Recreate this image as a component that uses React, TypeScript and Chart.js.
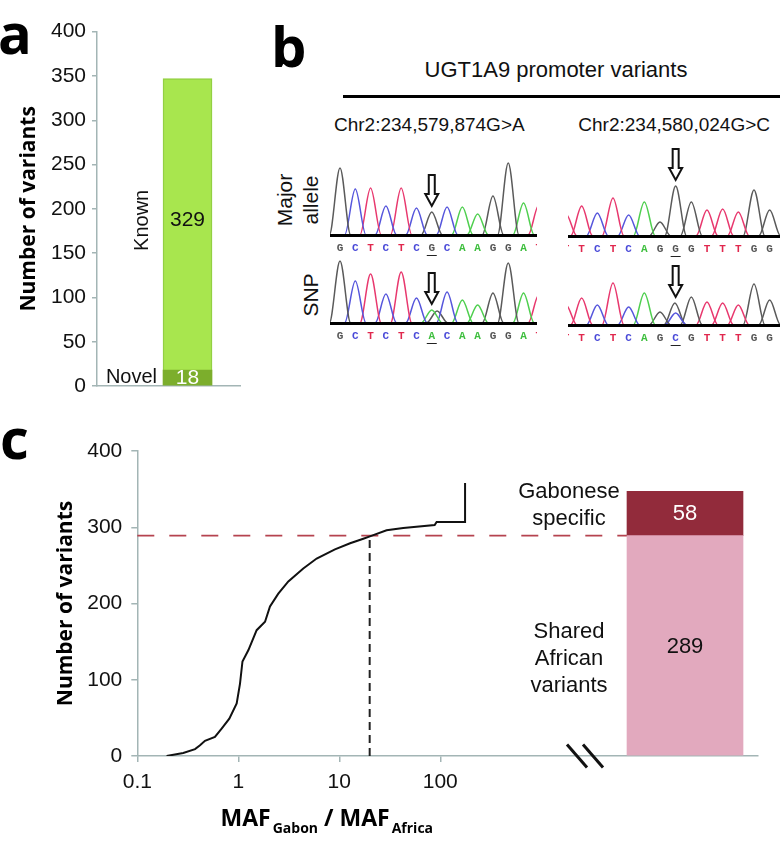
import React, { useEffect, useRef } from 'react';
import { Chart, registerables } from 'chart.js';

Chart.register(...registerables);

const SANS = '"Liberation Sans", Arial, Helvetica, sans-serif';
const BOLD = '"Open Sans", "Noto Sans", sans-serif';
const AXIS = '#a3b5b5';
Chart.defaults.font.family = SANS;

// ---------- Panel a : known vs novel variants ----------
const variantTypes = ['Novel', 'Known'];
const variantCounts = [18, 329];
const variantColors = ['#7cae2c', '#a8e64e'];

// ---------- Panel b : chromatograms (peak heights per called base) ----------
const baseColors: Record<string, string> = { A: '#4fcf4f', C: '#5656dc', G: '#5a5a5a', T: '#e8386e' };
const letterColors: Record<string, string> = { A: '#3fbf3f', C: '#4a4ad8', G: '#555555', T: '#e0284e' };
const snp1Label = 'Chr2:234,579,874G>A';
const snp2Label = 'Chr2:234,580,024G>C';
const snp1MajorBases = 'GCTCTCGCAAGGAT';
const snp1MajorPeaks = [67, 46, 47, 29, 47, 27, 23, 28, 28, 21, 39, 72, 32, 30];
const snp1AltBases = 'GCTCTCACAAGGAT';
const snp1AltPeaks = [62, 42, 49, 29, 51, 25, 13, 31, 23, 18, 30, 60, 30, 28];
const snp1AltExtra = [{ base: 'G', pos: 6.35, height: 12 }];
const snp1Index = 6;
const snp2MajorBases = 'TTCTCAGGGTTTGG';
const snp2MajorPeaks = [22, 30, 23, 38, 21, 34, 14, 50, 34, 26, 27, 24, 46, 26];
const snp2AltBases = 'TTCTCAGCGTTTGG';
const snp2AltPeaks = [20, 27, 20, 42, 18, 32, 13, 12, 28, 23, 22, 20, 41, 25];
const snp2AltExtra = [{ base: 'G', pos: 6.95, height: 22 }];
const snp2Index = 7;

// ---------- Panel c : cumulative MAF ratio ----------
const mafRatio = [0.195, 0.285, 0.373, 0.418, 0.468, 0.587, 0.684, 0.815, 0.964, 1.04, 1.10, 1.26, 1.52, 1.84, 2.06, 2.49, 3.13, 4.40, 5.97, 9.06, 12.8, 17.3, 20.1, 29.4, 43, 88, 92, 176, 176];
const cumulativeVariants = [0, 4, 9, 14, 20, 25, 36, 49, 69, 95, 124, 139, 165, 176, 196, 213, 229, 246, 259, 271, 279, 285, 288, 296, 299, 303, 307, 307, 358];
const thresholdRatio = 20;
const originTypes = ['Shared African variants', 'Gabonese specific'];
const originLines = [['Shared', 'African', 'variants'], ['Gabonese', 'specific']];
const originCounts = [289, 58];
const originColors = ['#e2a9be', '#922b3b'];
const xTickValues = [0.1, 1, 10, 100];

function ChartBox({ left, top, width, height, make }: any) {
  const ref = useRef<HTMLCanvasElement>(null);
  useEffect(() => {
    const chart = new Chart(ref.current as HTMLCanvasElement, make());
    return () => chart.destroy();
  }, []);
  return (
    <canvas
      ref={ref}
      width={width}
      height={height}
      style={{ position: 'absolute', left, top, width, height }}
    />
  );
}

function makePanelA() {
  const labels = {
    id: 'panelALabels',
    afterDatasetsDraw(chart: any) {
      const ctx = chart.ctx;
      const novel: any = chart.getDatasetMeta(0).data[0];
      const known: any = chart.getDatasetMeta(1).data[0];
      const left = known.x - known.width / 2;
      const kMid = (known.y + known.base) / 2 - 4;
      const nMid = (novel.y + novel.base) / 2;
      ctx.save();
      ctx.font = `21px ${SANS}`;
      ctx.textAlign = 'center';
      ctx.textBaseline = 'middle';
      ctx.fillStyle = '#111';
      ctx.fillText(String(variantCounts[1]), known.x, kMid);
      ctx.fillStyle = '#fff';
      ctx.fillText(String(variantCounts[0]), novel.x, nMid + 1);
      ctx.fillStyle = '#111';
      ctx.font = `20px ${SANS}`;
      ctx.textAlign = 'right';
      ctx.fillText(variantTypes[0], left - 6, nMid);
      ctx.translate(left - 15, kMid);
      ctx.rotate(-Math.PI / 2);
      ctx.textAlign = 'center';
      ctx.textBaseline = 'alphabetic';
      ctx.fillText(variantTypes[1], 0, 0);
      ctx.restore();
    },
  };
  return {
    type: 'bar',
    data: {
      datasets: variantTypes.map((t, i) => ({
        label: t,
        data: [{ x: 0, y: variantCounts[i] }],
        backgroundColor: variantColors[i],
        borderColor: i === 1 ? '#93d043' : variantColors[i],
        borderWidth: i === 1 ? 1.5 : 0,
        stack: 'variants',
        barThickness: 49,
      })),
    },
    options: {
      responsive: false,
      maintainAspectRatio: false,
      animation: false,
      layout: { padding: { top: 31.7, right: 20, bottom: 24, left: 0 } },
      plugins: { legend: { display: false }, tooltip: { enabled: false } },
      scales: {
        x: {
          type: 'linear',
          min: -1.266,
          max: 0.734,
          offset: false,
          ticks: { display: false },
          grid: { display: false, offset: false },
          border: { display: true, color: AXIS, width: 1.5 },
          afterFit: (s: any) => { s.height = 0; },
        },
        y: {
          min: 0,
          max: 400,
          ticks: { stepSize: 50, font: { size: 21, family: SANS }, color: '#111', padding: 6 },
          grid: { drawOnChartArea: false, tickLength: 5, color: AXIS, lineWidth: 1.5 },
          border: { color: AXIS, width: 1.5 },
          title: {
            display: true,
            text: 'Number of variants',
            color: '#000',
            font: { family: BOLD, size: 21, weight: 'bold' },
            padding: { top: 16, bottom: 0 },
          },
          afterFit: (s: any) => { s.width = 97; },
        },
      },
    },
    plugins: [labels],
  };
}

function peakData(pos: number, h: number) {
  return [
    { x: pos - 1.2, y: 0 },
    { x: pos - 0.7, y: 0 },
    { x: pos, y: h },
    { x: pos + 0.7, y: 0 },
    { x: pos + 1.2, y: 0 },
  ];
}

function makeChrom(bases: string, peaks: number[], extra: any[], snp: number, xMin: number, xMax: number) {
  const datasets: any[] = [];
  bases.split('').forEach((b, i) => {
    datasets.push({
      data: peakData(i, peaks[i]),
      borderColor: baseColors[b],
      borderWidth: 1.5,
      pointRadius: 0,
      cubicInterpolationMode: 'monotone',
      fill: false,
    });
  });
  extra.forEach((p) => {
    datasets.push({
      data: peakData(p.pos, p.height),
      borderColor: baseColors[p.base],
      borderWidth: 1.5,
      pointRadius: 0,
      cubicInterpolationMode: 'monotone',
      fill: false,
    });
  });
  const snpTop = Math.max(peaks[snp], ...extra.map((p) => p.height));
  const decor = {
    id: 'chromDecor',
    afterDraw(chart: any) {
      const { ctx, chartArea } = chart;
      const xs = chart.scales.x;
      const ys = chart.scales.y;
      ctx.save();
      ctx.font = `bold 11px "Liberation Mono", "DejaVu Sans Mono", monospace`;
      ctx.textAlign = 'center';
      ctx.textBaseline = 'middle';
      bases.split('').forEach((b, i) => {
        ctx.fillStyle = letterColors[b];
        ctx.fillText(b, xs.getPixelForValue(i), chartArea.bottom + 13);
      });
      const sx = xs.getPixelForValue(snp);
      ctx.strokeStyle = '#222';
      ctx.lineWidth = 1;
      ctx.beginPath();
      ctx.moveTo(sx - 5, chartArea.bottom + 20.5);
      ctx.lineTo(sx + 5, chartArea.bottom + 20.5);
      ctx.stroke();
      // outlined arrow
      const tip = ys.getPixelForValue(snpTop) - 6;
      const len = 31;
      ctx.beginPath();
      ctx.moveTo(sx - 3, tip - len);
      ctx.lineTo(sx + 3, tip - len);
      ctx.lineTo(sx + 3, tip - 12);
      ctx.lineTo(sx + 6.5, tip - 12);
      ctx.lineTo(sx, tip);
      ctx.lineTo(sx - 6.5, tip - 12);
      ctx.lineTo(sx - 3, tip - 12);
      ctx.closePath();
      ctx.fillStyle = '#fff';
      ctx.fill();
      ctx.lineWidth = 2;
      ctx.strokeStyle = '#111';
      ctx.stroke();
      ctx.restore();
    },
  };
  return {
    type: 'line',
    data: { datasets },
    options: {
      responsive: false,
      maintainAspectRatio: false,
      animation: false,
      layout: { padding: { top: 20, right: 0, bottom: 25, left: 0 } },
      plugins: { legend: { display: false }, tooltip: { enabled: false } },
      scales: {
        x: {
          type: 'linear',
          min: xMin,
          max: xMax,
          offset: false,
          ticks: { display: false },
          grid: { display: false },
          border: { display: true, color: '#000', width: 3, z: 1 },
          afterFit: (s: any) => { s.height = 0; s.paddingLeft = 0; s.paddingRight = 0; },
        },
        y: { display: false, min: 0, max: 80 },
      },
    },
    plugins: [decor],
  };
}

function makePanelC() {
  const decor = {
    id: 'panelCDecor',
    beforeDatasetsDraw(chart: any) {
      const { ctx, chartArea } = chart;
      const shared: any = chart.getDatasetMeta(2).data[0];
      const y = chart.scales.y.getPixelForValue(originCounts[0]);
      ctx.save();
      ctx.strokeStyle = '#b5434f';
      ctx.lineWidth = 1.6;
      ctx.setLineDash([17, 15]);
      ctx.beginPath();
      ctx.moveTo(chartArea.left, y);
      ctx.lineTo(shared.x - shared.width / 2, y);
      ctx.stroke();
      ctx.restore();
    },
    afterDatasetsDraw(chart: any) {
      const { ctx } = chart;
      const shared: any = chart.getDatasetMeta(2).data[0];
      const gab: any = chart.getDatasetMeta(3).data[0];
      const left = shared.x - shared.width / 2;
      const sMid = (shared.y + shared.base) / 2;
      const gMid = (gab.y + gab.base) / 2;
      ctx.save();
      ctx.font = `22px ${SANS}`;
      ctx.textAlign = 'center';
      ctx.textBaseline = 'middle';
      ctx.fillStyle = '#111';
      ctx.fillText(String(originCounts[0]), shared.x, sMid + 1);
      ctx.fillStyle = '#fff';
      ctx.fillText(String(originCounts[1]), gab.x, gMid);
      ctx.fillStyle = '#111';
      ctx.textBaseline = 'alphabetic';
      originLines[1].forEach((t, i) => ctx.fillText(t, left - 58, gab.y + 7 + 27 * i));
      originLines[0].forEach((t, i) => ctx.fillText(t, left - 58, sMid - 7 + 27 * i));
      // axis break marks
      const ay = chart.scales.y.getPixelForValue(0);
      ctx.strokeStyle = '#111';
      ctx.lineWidth = 3;
      [-60, -44].forEach((dx) => {
        ctx.beginPath();
        ctx.moveTo(left + dx, ay - 11.5);
        ctx.lineTo(left + dx + 20, ay + 11.5);
        ctx.stroke();
      });
      ctx.restore();
    },
    afterDraw(chart: any) {
      const { ctx, chartArea } = chart;
      const parts = [
        { t: 'MAF', sub: false, gap: 2 },
        { t: 'Gabon', sub: true, gap: 0 },
        { t: ' / MAF', sub: false, gap: 2 },
        { t: 'Africa', sub: true, gap: 0 },
      ];
      const fontOf = (sub: boolean) => (sub ? `bold 14px ${BOLD}` : `bold 23px ${BOLD}`);
      ctx.save();
      let total = 0;
      parts.forEach((p) => { ctx.font = fontOf(p.sub); total += ctx.measureText(p.t).width + p.gap; });
      let x = chartArea.left + 189.5 - total / 2;
      const base = chartArea.bottom + 70;
      ctx.fillStyle = '#000';
      ctx.textAlign = 'left';
      ctx.textBaseline = 'alphabetic';
      parts.forEach((p) => {
        ctx.font = fontOf(p.sub);
        ctx.fillText(p.t, x, p.sub ? base + 7 : base);
        x += ctx.measureText(p.t).width + p.gap;
      });
      ctx.restore();
    },
  };
  return {
    type: 'bar',
    data: {
      datasets: [
        {
          type: 'line',
          label: 'Cumulative variants',
          data: mafRatio.map((r, i) => ({ x: r, y: cumulativeVariants[i] })),
          xAxisID: 'x',
          yAxisID: 'y',
          borderColor: '#111',
          borderWidth: 2,
          pointRadius: 0,
          tension: 0,
          fill: false,
        },
        {
          type: 'line',
          label: 'Threshold',
          data: [{ x: thresholdRatio, y: 0 }, { x: thresholdRatio, y: originCounts[0] }],
          xAxisID: 'x',
          yAxisID: 'y',
          borderColor: '#222',
          borderWidth: 2,
          borderDash: [8, 5],
          pointRadius: 0,
          fill: false,
        },
        ...originTypes.map((t, i) => ({
          type: 'bar',
          label: t,
          data: [{ x: 0, y: originCounts[i] }],
          xAxisID: 'x2',
          yAxisID: 'y',
          backgroundColor: originColors[i],
          stack: 'origin',
          grouped: false,
          barThickness: 116,
          maxBarThickness: 116,
        })),
      ],
    },
    options: {
      responsive: false,
      maintainAspectRatio: false,
      animation: false,
      layout: { padding: { top: 41, right: 22, bottom: 45, left: 0 } },
      plugins: { legend: { display: false }, tooltip: { enabled: false } },
      scales: {
        x: {
          type: 'logarithmic',
          position: 'bottom',
          min: 0.1,
          max: 1.4e5,
          offset: false,
          afterBuildTicks: (s: any) => { s.ticks = xTickValues.map((v) => ({ value: v })); },
          ticks: {
            autoSkip: false,
            maxRotation: 0,
            callback: (v: any) => String(v),
            font: { size: 21, family: SANS },
            color: '#111',
            padding: 8,
          },
          grid: { display: true, drawOnChartArea: false, tickLength: 6, color: AXIS, lineWidth: 1.5, offset: false },
          border: { color: AXIS, width: 1.5 },
          afterFit: (s: any) => { s.height = 40; },
        },
        x2: {
          type: 'linear',
          position: 'bottom',
          display: true,
          min: -0.8824,
          max: 0.1176,
          offset: false,
          ticks: { display: false },
          grid: { display: false, offset: false },
          border: { display: false },
          afterFit: (s: any) => { s.height = 0; s.paddingLeft = 0; s.paddingRight = 0; },
        },
        y: {
          min: 0,
          max: 400,
          ticks: { stepSize: 100, font: { size: 21, family: SANS }, color: '#111', padding: 9 },
          grid: { drawOnChartArea: false, tickLength: 6, color: AXIS, lineWidth: 1.5 },
          border: { color: AXIS, width: 1.5 },
          title: {
            display: true,
            text: 'Number of variants',
            color: '#000',
            font: { family: BOLD, size: 21, weight: 'bold' },
            padding: { top: 53, bottom: 0 },
          },
          afterFit: (s: any) => { s.width = 137.3; },
        },
      },
    },
    plugins: [decor],
  };
}

const letterStyle = (left: number, top: number): React.CSSProperties => ({
  position: 'absolute',
  left,
  top,
  font: `bold 56px ${BOLD}`,
  lineHeight: '56px',
  color: '#000',
});

export default function App() {
  return (
    <div
      style={{
        position: 'absolute',
        left: 0,
        top: 0,
        width: 780,
        height: 841,
        overflow: 'hidden',
        background: '#fff',
        fontFamily: SANS,
        color: '#111',
      }}
    >
      <div style={letterStyle(-2, 3.6)}>a</div>
      <div style={letterStyle(271, 17)}>b</div>
      <div style={letterStyle(0, 408.6)}>c</div>

      <ChartBox left={0} top={0} width={260} height={410} make={makePanelA} />

      <div
        style={{
          position: 'absolute', left: 356, top: 58.7, width: 400, textAlign: 'center',
          font: `22px ${SANS}`, lineHeight: '22px', whiteSpace: 'nowrap',
        }}
      >
        UGT1A9 promoter variants
      </div>
      <div style={{ position: 'absolute', left: 343, top: 95, width: 437, height: 2.5, background: '#000' }} />
      <div style={{ position: 'absolute', left: 334, top: 114.6, font: `19px ${SANS}`, lineHeight: '19px', whiteSpace: 'nowrap' }}>
        {snp1Label}
      </div>
      <div style={{ position: 'absolute', left: 578.3, top: 114.6, font: `19px ${SANS}`, lineHeight: '19px', whiteSpace: 'nowrap' }}>
        {snp2Label}
      </div>
      <div
        style={{
          position: 'absolute', left: 298, top: 200, transform: 'translate(-50%,-50%) rotate(-90deg)',
          font: `21px ${SANS}`, lineHeight: '26px', textAlign: 'center', whiteSpace: 'nowrap',
        }}
      >
        Major<br />allele
      </div>
      <div
        style={{
          position: 'absolute', left: 310.7, top: 295, transform: 'translate(-50%,-50%) rotate(-90deg)',
          font: `21px ${SANS}`, lineHeight: '26px', whiteSpace: 'nowrap',
        }}
      >
        SNP
      </div>

      <ChartBox left={330} top={135} width={207} height={125}
        make={() => makeChrom(snp1MajorBases, snp1MajorPeaks, [], snp1Index, -0.654, 12.88)} />
      <ChartBox left={330} top={223} width={207} height={125}
        make={() => makeChrom(snp1AltBases, snp1AltPeaks, snp1AltExtra, snp1Index, -0.654, 12.88)} />
      <ChartBox left={568} top={136} width={212} height={125}
        make={() => makeChrom(snp2MajorBases, snp2MajorPeaks, [], snp2Index, 0.128, 13.66)} />
      <ChartBox left={568} top={225} width={212} height={125}
        make={() => makeChrom(snp2AltBases, snp2AltPeaks, snp2AltExtra, snp2Index, 0.128, 13.66)} />

      <ChartBox left={0} top={410} width={780} height={431} make={makePanelC} />
    </div>
  );
}
